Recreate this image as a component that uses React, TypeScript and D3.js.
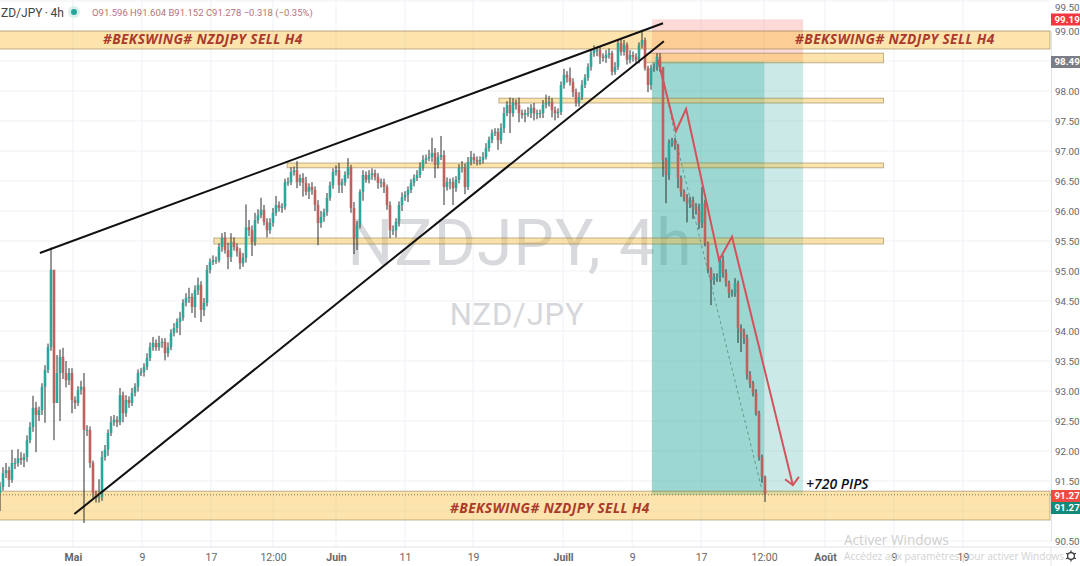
import { useEffect, useRef } from 'react';
import * as d3 from 'd3';

const WIDTH = 1080;
const HEIGHT = 566;
const PLOT_RIGHT = 1051;
const AXIS_Y = 547;

// 4h candles, every third pixel or so
const closes = [
  91.40, 91.63, 91.68, 91.52, 91.80, 91.80, 91.88, 91.85, 91.90, 92.18,
  92.40, 92.72, 92.60, 92.68, 93.07, 93.35, 93.73, 95.02, 92.80, 93.30,
  93.57, 93.30, 93.18, 93.30, 92.85, 92.80, 93.02, 93.07, 92.35, 92.35,
  91.80, 91.30, 91.22, 91.23, 91.90, 92.02, 92.30, 92.48, 92.52, 92.48,
  92.93, 92.63, 92.85, 92.80, 92.97, 93.07, 93.30, 93.32, 93.40, 93.55,
  93.73, 93.80, 93.73, 93.80, 93.82, 93.63, 93.73, 93.97, 94.05, 94.15,
  94.22, 94.47, 94.55, 94.57, 94.40, 94.68, 94.77, 94.35, 94.47, 95.02,
  95.15, 95.18, 95.18, 95.40, 95.55, 95.35, 95.23, 95.48, 95.40, 95.32,
  95.13, 95.22, 95.73, 95.68, 95.48, 95.85, 95.93, 96.02, 95.82, 95.68,
  95.80, 95.97, 96.10, 96.05, 96.07, 96.48, 96.48, 96.65, 96.68, 96.48,
  96.55, 96.47, 96.32, 96.40, 96.35, 96.10, 95.80, 95.90, 95.98, 96.22,
  96.43, 96.65, 96.68, 96.43, 96.48, 96.60, 96.73, 96.05, 95.55, 95.77,
  96.32, 96.60, 96.52, 96.60, 96.63, 96.57, 96.47, 96.48, 96.40, 96.10,
  95.68, 95.68, 95.82, 96.10, 96.23, 96.27, 96.35, 96.47, 96.55, 96.60,
  96.73, 96.85, 96.88, 96.90, 96.97, 96.77, 96.90, 96.93, 96.40, 96.48,
  96.48, 96.38, 96.52, 96.72, 96.73, 96.40, 96.82, 96.90, 96.85, 96.82,
  96.85, 96.90, 97.05, 97.18, 97.30, 97.32, 97.18, 97.38, 97.63, 97.77,
  97.63, 97.80, 97.77, 97.63, 97.60, 97.63, 97.63, 97.72, 97.63, 97.63,
  97.63, 97.77, 97.80, 97.82, 97.68, 97.63, 97.65, 98.10, 98.27, 98.22,
  98.15, 97.98, 97.80, 97.90, 98.10, 98.22, 98.40, 98.63, 98.68, 98.68,
  98.57, 98.55, 98.60, 98.63, 98.32, 98.40, 98.80, 98.65, 98.77, 98.52,
  98.60, 98.57, 98.52, 98.77, 98.85, 98.38, 98.10, 98.38, 98.40, 98.57,
  98.40, 96.85, 96.60, 97.13, 97.18, 97.10, 96.55, 96.32, 96.22, 96.13,
  96.18, 96.07, 96.02, 95.80, 96.13, 95.47, 95.02, 94.85, 94.90, 94.90,
  95.18, 94.97, 94.80, 94.63, 94.63, 94.80, 94.05, 93.98, 93.88, 93.27,
  93.13, 92.97, 92.63, 91.90, 91.57, 91.28,
];

// wicks above / below the body, in hundredths of a yen
const upperWicks = [
  8, 10, 12, 6, 22, 8, 15, 10, 6, 8,
  8, 20, 10, 6, 6, 8, 6, 37, 0, 30,
  12, 15, 20, 8, 8, 6, 6, 10, 23, 8,
  6, 4, 4, 30, 10, 8, 6, 10, 8, 6,
  12, 6, 8, 6, 8, 6, 6, 6, 6, 8,
  8, 10, 6, 12, 6, 6, 8, 6, 8, 6,
  10, 6, 8, 15, 6, 8, 12, 6, 8, 8,
  6, 8, 6, 6, 8, 10, 12, 15, 8, 6,
  6, 8, 38, 12, 8, 12, 10, 20, 8, 6,
  8, 8, 15, 6, 6, 6, 8, 8, 6, 15,
  6, 8, 10, 6, 8, 6, 8, 10, 6, 8,
  6, 6, 8, 12, 6, 6, 15, 4, 10, 6,
  4, 8, 6, 8, 8, 6, 6, 6, 6, 4,
  6, 8, 6, 6, 8, 6, 6, 6, 6, 8,
  8, 8, 6, 12, 25, 8, 8, 32, 8, 8,
  6, 8, 6, 6, 10, 6, 8, 10, 6, 6,
  6, 8, 8, 6, 6, 6, 6, 8, 10, 6,
  12, 8, 6, 12, 6, 6, 10, 6, 8, 6,
  6, 8, 14, 10, 6, 6, 6, 6, 10, 6,
  17, 6, 6, 8, 8, 6, 6, 6, 8, 6,
  6, 6, 8, 8, 4, 8, 6, 6, 8, 4,
  8, 6, 6, 4, 17, 4, 4, 6, 6, 6,
  6, 0, 4, 6, 4, 4, 2, 4, 4, 6,
  6, 6, 6, 10, 27, 6, 2, 4, 6, 6,
  6, 8, 6, 4, 6, 8, 4, 6, 6, 6,
  6, 4, 6, 4, 4, 2,
];

const lowerWicks = [
  30, 6, 8, 12, 5, 10, 6, 8, 12, 8,
  5, 8, 62, 10, 8, 60, 5, 6, 62, 0,
  80, 10, 12, 8, 22, 10, 5, 8, 155, 10,
  8, 8, 8, 8, 6, 6, 10, 5, 6, 8,
  5, 15, 6, 8, 5, 6, 8, 5, 8, 5,
  5, 6, 6, 6, 8, 12, 6, 5, 6, 8,
  22, 5, 6, 8, 10, 18, 8, 20, 10, 6,
  6, 5, 6, 4, 8, 6, 20, 8, 6, 8,
  10, 6, 8, 10, 23, 6, 6, 5, 6, 12,
  6, 6, 5, 6, 8, 5, 6, 5, 6, 10,
  6, 23, 6, 12, 8, 10, 37, 8, 8, 6,
  5, 6, 6, 13, 13, 6, 6, 8, 27, 20,
  6, 15, 5, 6, 8, 6, 10, 8, 10, 8,
  13, 8, 12, 8, 10, 6, 12, 5, 6, 5,
  5, 6, 6, 5, 8, 22, 6, 5, 30, 6,
  12, 28, 6, 6, 8, 12, 5, 6, 6, 6,
  5, 6, 4, 6, 5, 5, 16, 6, 8, 5,
  33, 6, 8, 15, 6, 12, 6, 8, 12, 10,
  8, 8, 6, 6, 12, 12, 8, 5, 6, 8,
  6, 8, 6, 6, 5, 5, 5, 6, 6, 10,
  12, 6, 8, 6, 6, 5, 5, 6, 6, 8,
  6, 8, 6, 6, 6, 4, 12, 8, 6, 6,
  8, 28, 47, 8, 6, 8, 17, 8, 6, 32,
  8, 20, 8, 10, 8, 6, 6, 42, 8, 8,
  8, 8, 6, 8, 6, 6, 25, 33, 10, 8,
  8, 6, 4, 6, 10, 13,
];

const priceTicks = [
  99.5, 99, 98, 97.5, 97, 96.5, 96, 95.5, 95, 94.5, 94, 93.5, 93, 92.5, 92, 91.5, 90.5,
];
const gridPrices = d3.range(90.5, 99.6, 0.5);

const timeLabels = ['Mai', '9', '17', '12:00', 'Juin', '11', '19', 'Juill', '9', '17', '12:00', 'Août', '9', '19'];
const timeBars = [24.3, 47.3, 70.3, 91, 112, 135, 157.7, 187.7, 210.7, 233.7, 254.7, 275, 298, 321];
const monthLabels = ['Mai', 'Juin', 'Juill', 'Août'];

// sell position, in bars and prices
const entryPrice = 98.494;
const stopPrice = 99.194;
const targetPrice = 91.27;
const positionBars = [217.3, 254.7, 267.7];

// horizontal zones: [first bar, last bar, top price, bottom price]
const zones: [number, number, number, number][] = [
  [-2, 350, 99, 98.7],
  [215, 294.5, 98.63, 98.47],
  [166.3, 294.5, 97.88, 97.8],
  [95.7, 294.5, 96.8, 96.72],
  [71.3, 294.5, 95.55, 95.45],
  [-2, 350, 91.33, 90.85],
];

const trendLines: [number, number, number, number][] = [
  [13.3, 95.3, 221, 99.13],
  [24.8, 90.95, 221.3, 98.83],
];

const arrowBars = [219.3, 225.3, 228.7, 239.7, 244, 264.3];
const arrowPrices = [98.52, 97.33, 97.7, 95.18, 95.57, 91.43];
const arrowHeadBars = [261.7, 264.3, 266.3];
const arrowHeadPrices = [91.53, 91.43, 91.57];

const projectionBars = [220, 226, 238.3, 254];
const projectionPrices = [98.45, 97.03, 94.52, 91.35];

const bannerText = '#BEKSWING# NZDJPY SELL H4';
const bannerBars = [34.3, 265, 150];
const bannerPrices = [98.78, 98.78, 90.97];

const tagLabels = ['99.19', '98.49', '91.27', '91.27'];
const tagCentres = [19.5, 62, 496, 508];
const tagColors = ['#f0373f', '#7b7e87', '#ef4b45', '#12897b'];

const FONT = 'Roboto, "Noto Sans", sans-serif';

export default function App() {
  const svgRef = useRef<SVGSVGElement>(null);

  useEffect(() => {
    if (!svgRef.current) return;
    const svg = d3.select(svgRef.current);
    svg.selectAll('*').remove();

    const x = d3.scaleLinear().domain([0, 255]).range([0, 765]);
    const y = d3.scaleLinear().domain([99, 90.5]).range([31, 541]);

    // Grid
    const grid = svg.append('g').attr('stroke', '#eff1f6').attr('stroke-width', 1);
    grid.selectAll('line.h').data(gridPrices).enter().append('line')
      .attr('x1', 0).attr('x2', PLOT_RIGHT)
      .attr('y1', (d) => y(d)).attr('y2', (d) => y(d));
    grid.selectAll('line.v').data(timeBars).enter().append('line')
      .attr('x1', (d) => x(d)).attr('x2', (d) => x(d))
      .attr('y1', 0).attr('y2', AXIS_Y);

    // Watermark
    svg.append('text').attr('x', 520).attr('y', 265).attr('text-anchor', 'middle')
      .attr('font-family', FONT).attr('font-size', 64).attr('fill', '#d8d9dc')
      .attr('letter-spacing', 1.2).text('NZDJPY, 4h');
    svg.append('text').attr('x', 517).attr('y', 325).attr('text-anchor', 'middle')
      .attr('font-family', FONT).attr('font-size', 31).attr('fill', '#d6d7da')
      .attr('letter-spacing', 0.8).text('NZD/JPY');

    // Position box
    const [boxStart, boxActive, boxEnd] = positionBars;
    svg.append('rect').attr('x', x(boxStart)).attr('width', x(boxEnd) - x(boxStart))
      .attr('y', y(stopPrice)).attr('height', y(entryPrice) - y(stopPrice))
      .attr('fill', 'rgba(244,67,54,0.2)');
    svg.append('rect').attr('x', x(boxStart)).attr('width', x(boxEnd) - x(boxStart))
      .attr('y', y(entryPrice)).attr('height', y(targetPrice) - y(entryPrice))
      .attr('fill', 'rgba(38,166,154,0.24)');
    svg.append('rect').attr('x', x(boxStart)).attr('width', x(boxActive) - x(boxStart))
      .attr('y', y(entryPrice)).attr('height', y(targetPrice) - y(entryPrice))
      .attr('fill', 'rgba(38,166,154,0.28)');

    // Zones
    svg.selectAll('rect.zone').data(zones).enter().append('rect')
      .attr('x', (d) => x(d[0]))
      .attr('width', (d) => Math.min(x(d[1]), PLOT_RIGHT) - x(d[0]))
      .attr('y', (d) => y(d[2]))
      .attr('height', (d) => y(d[3]) - y(d[2]))
      .attr('fill', 'rgba(250,190,60,0.42)')
      .attr('stroke', 'rgba(130,110,60,0.5)')
      .attr('stroke-width', 1);

    // Candles
    const candles = closes.map((close, i) => {
      const open = i === 0 ? close - 0.1 : closes[i - 1];
      const top = Math.max(open, close);
      const bottom = Math.min(open, close);
      return { i, open, close, top, bottom, high: top + upperWicks[i] / 100, low: bottom - lowerWicks[i] / 100 };
    });
    const candleGroup = svg.append('g');
    candleGroup.selectAll('line').data(candles).enter().append('line')
      .attr('x1', (d) => x(d.i)).attr('x2', (d) => x(d.i))
      .attr('y1', (d) => y(d.high)).attr('y2', (d) => y(d.low))
      .attr('stroke', '#2e2e2e').attr('stroke-width', 1);
    candleGroup.selectAll('rect').data(candles).enter().append('rect')
      .attr('x', (d) => x(d.i) - 1.3).attr('width', 2.6)
      .attr('y', (d) => y(d.top))
      .attr('height', (d) => Math.max(1, y(d.bottom) - y(d.top)))
      .attr('fill', (d) => (d.close >= d.open ? '#2ba89b' : '#bf625e'));

    // Trend lines
    svg.selectAll('line.trend').data(trendLines).enter().append('line')
      .attr('x1', (d) => x(d[0])).attr('y1', (d) => y(d[1]))
      .attr('x2', (d) => x(d[2])).attr('y2', (d) => y(d[3]))
      .attr('stroke', '#111').attr('stroke-width', 2);

    // Projected path
    const path = d3.line<number>().x((d) => x(d));
    svg.append('path')
      .attr('d', path.y((_, i) => y(projectionPrices[i]))(projectionBars))
      .attr('fill', 'none').attr('stroke', 'rgba(80,120,115,0.7)')
      .attr('stroke-width', 1).attr('stroke-dasharray', '3 3');
    svg.append('path')
      .attr('d', path.y((_, i) => y(arrowPrices[i]))(arrowBars))
      .attr('fill', 'none').attr('stroke', '#d4525c').attr('stroke-width', 2);
    svg.append('path')
      .attr('d', path.y((_, i) => y(arrowHeadPrices[i]))(arrowHeadBars))
      .attr('fill', 'none').attr('stroke', '#d4525c').attr('stroke-width', 2);

    // Banner texts
    bannerBars.forEach((bar, i) => {
      svg.append('text').attr('x', x(bar)).attr('y', y(bannerPrices[i]))
        .attr('font-family', '"Open Sans", sans-serif').attr('font-size', 13.7)
        .attr('font-weight', 700).attr('font-style', 'italic')
        .attr('fill', '#aa3a2c').attr('letter-spacing', 0.4).text(bannerText);
    });

    svg.append('text').attr('x', 806).attr('y', 489)
      .attr('font-family', '"Open Sans", sans-serif').attr('font-size', 14)
      .attr('font-weight', 600).attr('font-style', 'italic').attr('fill', '#111')
      .text('+720 PIPS');

    // Dotted last price line
    svg.append('line').attr('x1', 0).attr('x2', PLOT_RIGHT)
      .attr('y1', y(targetPrice)).attr('y2', y(targetPrice))
      .attr('stroke', '#7d6a3a').attr('stroke-width', 1).attr('stroke-dasharray', '1 2');

    // Header
    svg.append('text').attr('x', 1).attr('y', 17)
      .attr('font-family', FONT).attr('font-size', 12).attr('fill', '#444')
      .text('ZD/JPY\u2009·\u20094h');
    svg.append('circle').attr('cx', 74).attr('cy', 12).attr('r', 6).attr('fill', '#d8f0ec');
    svg.append('circle').attr('cx', 74).attr('cy', 12).attr('r', 3).attr('fill', '#26a69a');
    svg.append('text').attr('x', 92).attr('y', 16)
      .attr('font-family', FONT).attr('font-size', 9.5).attr('fill', '#b9727a')
      .text('O91.596 H91.604 B91.152 C91.278 −0.318 (−0.35%)');

    // Axes
    const rightAxis = svg.append('g').attr('transform', `translate(${PLOT_RIGHT},0)`)
      .call(d3.axisRight(y).tickValues(priceTicks).tickSize(0).tickPadding(4)
        .tickFormat((d) => (d as number).toFixed(2)));
    rightAxis.select('.domain').attr('stroke', '#e0e3eb');
    rightAxis.selectAll('text').attr('font-family', FONT).attr('font-size', 9.8).attr('fill', '#666')
      .attr('dy', (d) => (y(d as number) < 6 ? '1em' : '0.32em'));

    const bottomAxis = svg.append('g').attr('transform', `translate(0,${AXIS_Y})`)
      .call(d3.axisBottom(x).tickValues(timeBars).tickSize(0).tickPadding(7)
        .tickFormat((_, i) => timeLabels[i]));
    bottomAxis.select('.domain').attr('stroke', '#e0e3eb').attr('d', `M0,0H${WIDTH}`);
    bottomAxis.selectAll('text').attr('font-family', FONT).attr('font-size', 10.5).attr('fill', '#666')
      .attr('font-weight', (_, i) => (monthLabels.includes(timeLabels[i]) ? 700 : 400));
    svg.append('line').attr('x1', PLOT_RIGHT).attr('x2', PLOT_RIGHT).attr('y1', AXIS_Y).attr('y2', HEIGHT)
      .attr('stroke', '#e0e3eb');

    // Price tags
    tagLabels.forEach((label, i) => {
      svg.append('rect').attr('x', PLOT_RIGHT).attr('y', tagCentres[i] - 6).attr('width', WIDTH - PLOT_RIGHT)
        .attr('height', 12).attr('fill', tagColors[i]);
      svg.append('text').attr('x', PLOT_RIGHT + 3.5).attr('y', tagCentres[i] + 3.4)
        .attr('font-family', FONT).attr('font-size', 9.8).attr('font-weight', 700).attr('fill', '#fff')
        .text(label);
    });

    // Settings icon
    const gear = svg.append('g').attr('transform', 'translate(1071,556)')
      .attr('stroke', '#333').attr('fill', 'none');
    gear.append('circle').attr('r', 3.4).attr('stroke-width', 1.2);
    d3.range(0, 360, 60).forEach((a) => {
      gear.append('line').attr('y1', -3.4).attr('y2', -5.6).attr('stroke-width', 1.2)
        .attr('transform', `rotate(${a})`);
    });

    // Windows activation notice
    svg.append('text').attr('x', 844).attr('y', 545)
      .attr('font-family', '"Open Sans", sans-serif').attr('font-size', 13.6).attr('fill', '#cfcfcf')
      .text('Activer Windows');
    svg.append('text').attr('x', 844).attr('y', 560)
      .attr('font-family', '"Open Sans", sans-serif').attr('font-size', 10.1).attr('fill', '#d2d2d2')
      .text('Accédez aux paramètres pour activer Windows.');
  }, []);

  return (
    <svg
      ref={svgRef}
      width={WIDTH}
      height={HEIGHT}
      style={{ position: 'absolute', left: 0, top: 0, background: '#fff', display: 'block' }}
    />
  );
}
